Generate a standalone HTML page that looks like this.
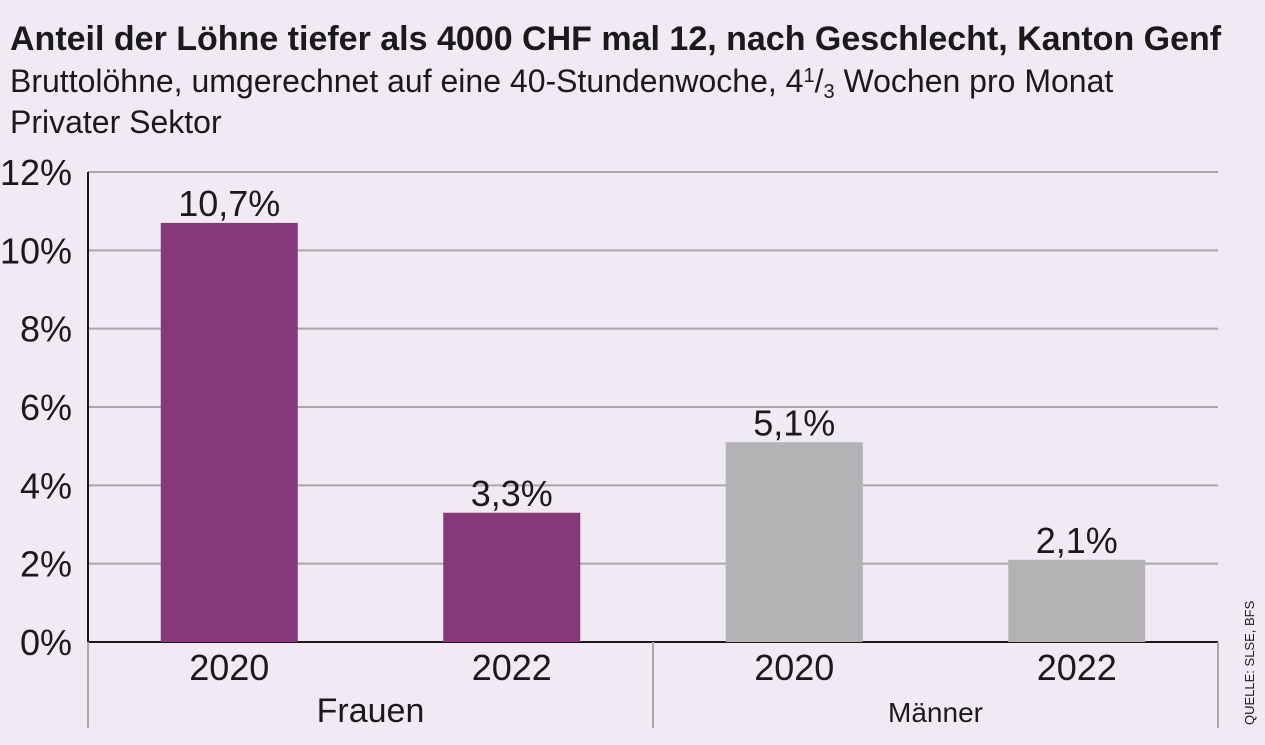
<!DOCTYPE html>
<html><head><meta charset="utf-8"><style>
body{margin:0;background:#f1e9f3;}
svg{display:block;font-family:"Liberation Sans Narrow","Liberation Sans",sans-serif;}
</style></head><body>
<svg id="c" width="1265" height="745" xmlns="http://www.w3.org/2000/svg">
<rect width="1265" height="745" fill="#f1e9f3"/>
<text x="10" y="50" font-size="34" font-weight="bold" fill="#1a1a1a">Anteil der Löhne tiefer als 4000 CHF mal 12, nach Geschlecht, Kanton Genf</text>
<text x="10" y="92" font-size="32" fill="#1a1a1a">Bruttolöhne, umgerechnet auf eine 40-Stundenwoche, 4<tspan font-size="20" dy="-10">1</tspan><tspan dy="10">/</tspan><tspan font-size="20" dy="6">3</tspan><tspan dy="-6"> Wochen pro Monat</tspan></text>
<text x="10" y="133" font-size="32" fill="#1a1a1a">Privater Sektor</text>
<g id="grid"></g><g id="bars"></g><g id="xax"></g>
<text transform="translate(1254,725) rotate(-90)" font-size="13" fill="#1a1a1a">QUELLE: SLSE, BFS</text>
</svg>
<script>
const categories=["2020","2022","2020","2022"];
const groups=["Frauen","Männer"];
const values=[10.7,3.3,5.1,2.1];
const labels=["10,7%","3,3%","5,1%","2,1%"];
const ticks=[0,2,4,6,8,10,12];
const NS="http://www.w3.org/2000/svg";
const x0=88,x1=1218,y0=642,yTop=172,ymax=12;
const y=v=>y0-(v/ymax)*(y0-yTop);
const bw=(x1-x0)/categories.length;
const xc=i=>x0+bw*(i+0.5);
function mk(p,t,a){const e=document.createElementNS(NS,t);for(const k in a)e.setAttribute(k,a[k]);p.appendChild(e);return e;}
const g=document.getElementById('grid'),b=document.getElementById('bars'),xa=document.getElementById('xax');
ticks.forEach(t=>{
 const l=mk(g,'line',{x1:x0,x2:x1,y1:y(t),y2:y(t),stroke:t===0?'#1a1a1a':'#a8a8a8','stroke-width':t===0?2:2});
 
 
 const tx=mk(g,'text',{x:72,y:y(t)+13,'text-anchor':'end','font-size':36,fill:'#1a1a1a'});
 tx.textContent=t+'%';
 
 
});
const ax=mk(g,'line',{x1:x0,x2:x0,y1:yTop,y2:y0,stroke:'#1a1a1a','stroke-width':2});


values.forEach((v,i)=>{
 const r=mk(b,'rect',{x:xc(i)-68.5,y:y(v),width:137,height:y0-y(v),fill:i<2?'#85387a':'#b3b3b5'});
 
 
 const t=mk(b,'text',{x:xc(i),y:y(v)-7,'text-anchor':'middle','font-size':36,fill:'#1a1a1a'});
 t.textContent=labels[i];
 
 
 const c=mk(xa,'text',{x:xc(i),y:680,'text-anchor':'middle','font-size':36,fill:'#1a1a1a'});
 c.textContent=categories[i];
 
 
});
[x0,(x0+x1)/2,x1].forEach(xx=>{
 const l=mk(xa,'line',{x1:xx,x2:xx,y1:y0,y2:728,stroke:'#a8a8a8','stroke-width':2});
 
 
});
groups.forEach((gr,i)=>{
 const t=mk(xa,'text',{x:x0+(x1-x0)/4*(2*i+1),y:722,'text-anchor':'middle','font-size':i===0?34:28,fill:'#1a1a1a'});
 t.textContent=gr;
 
 
});
</script>
</body></html>
